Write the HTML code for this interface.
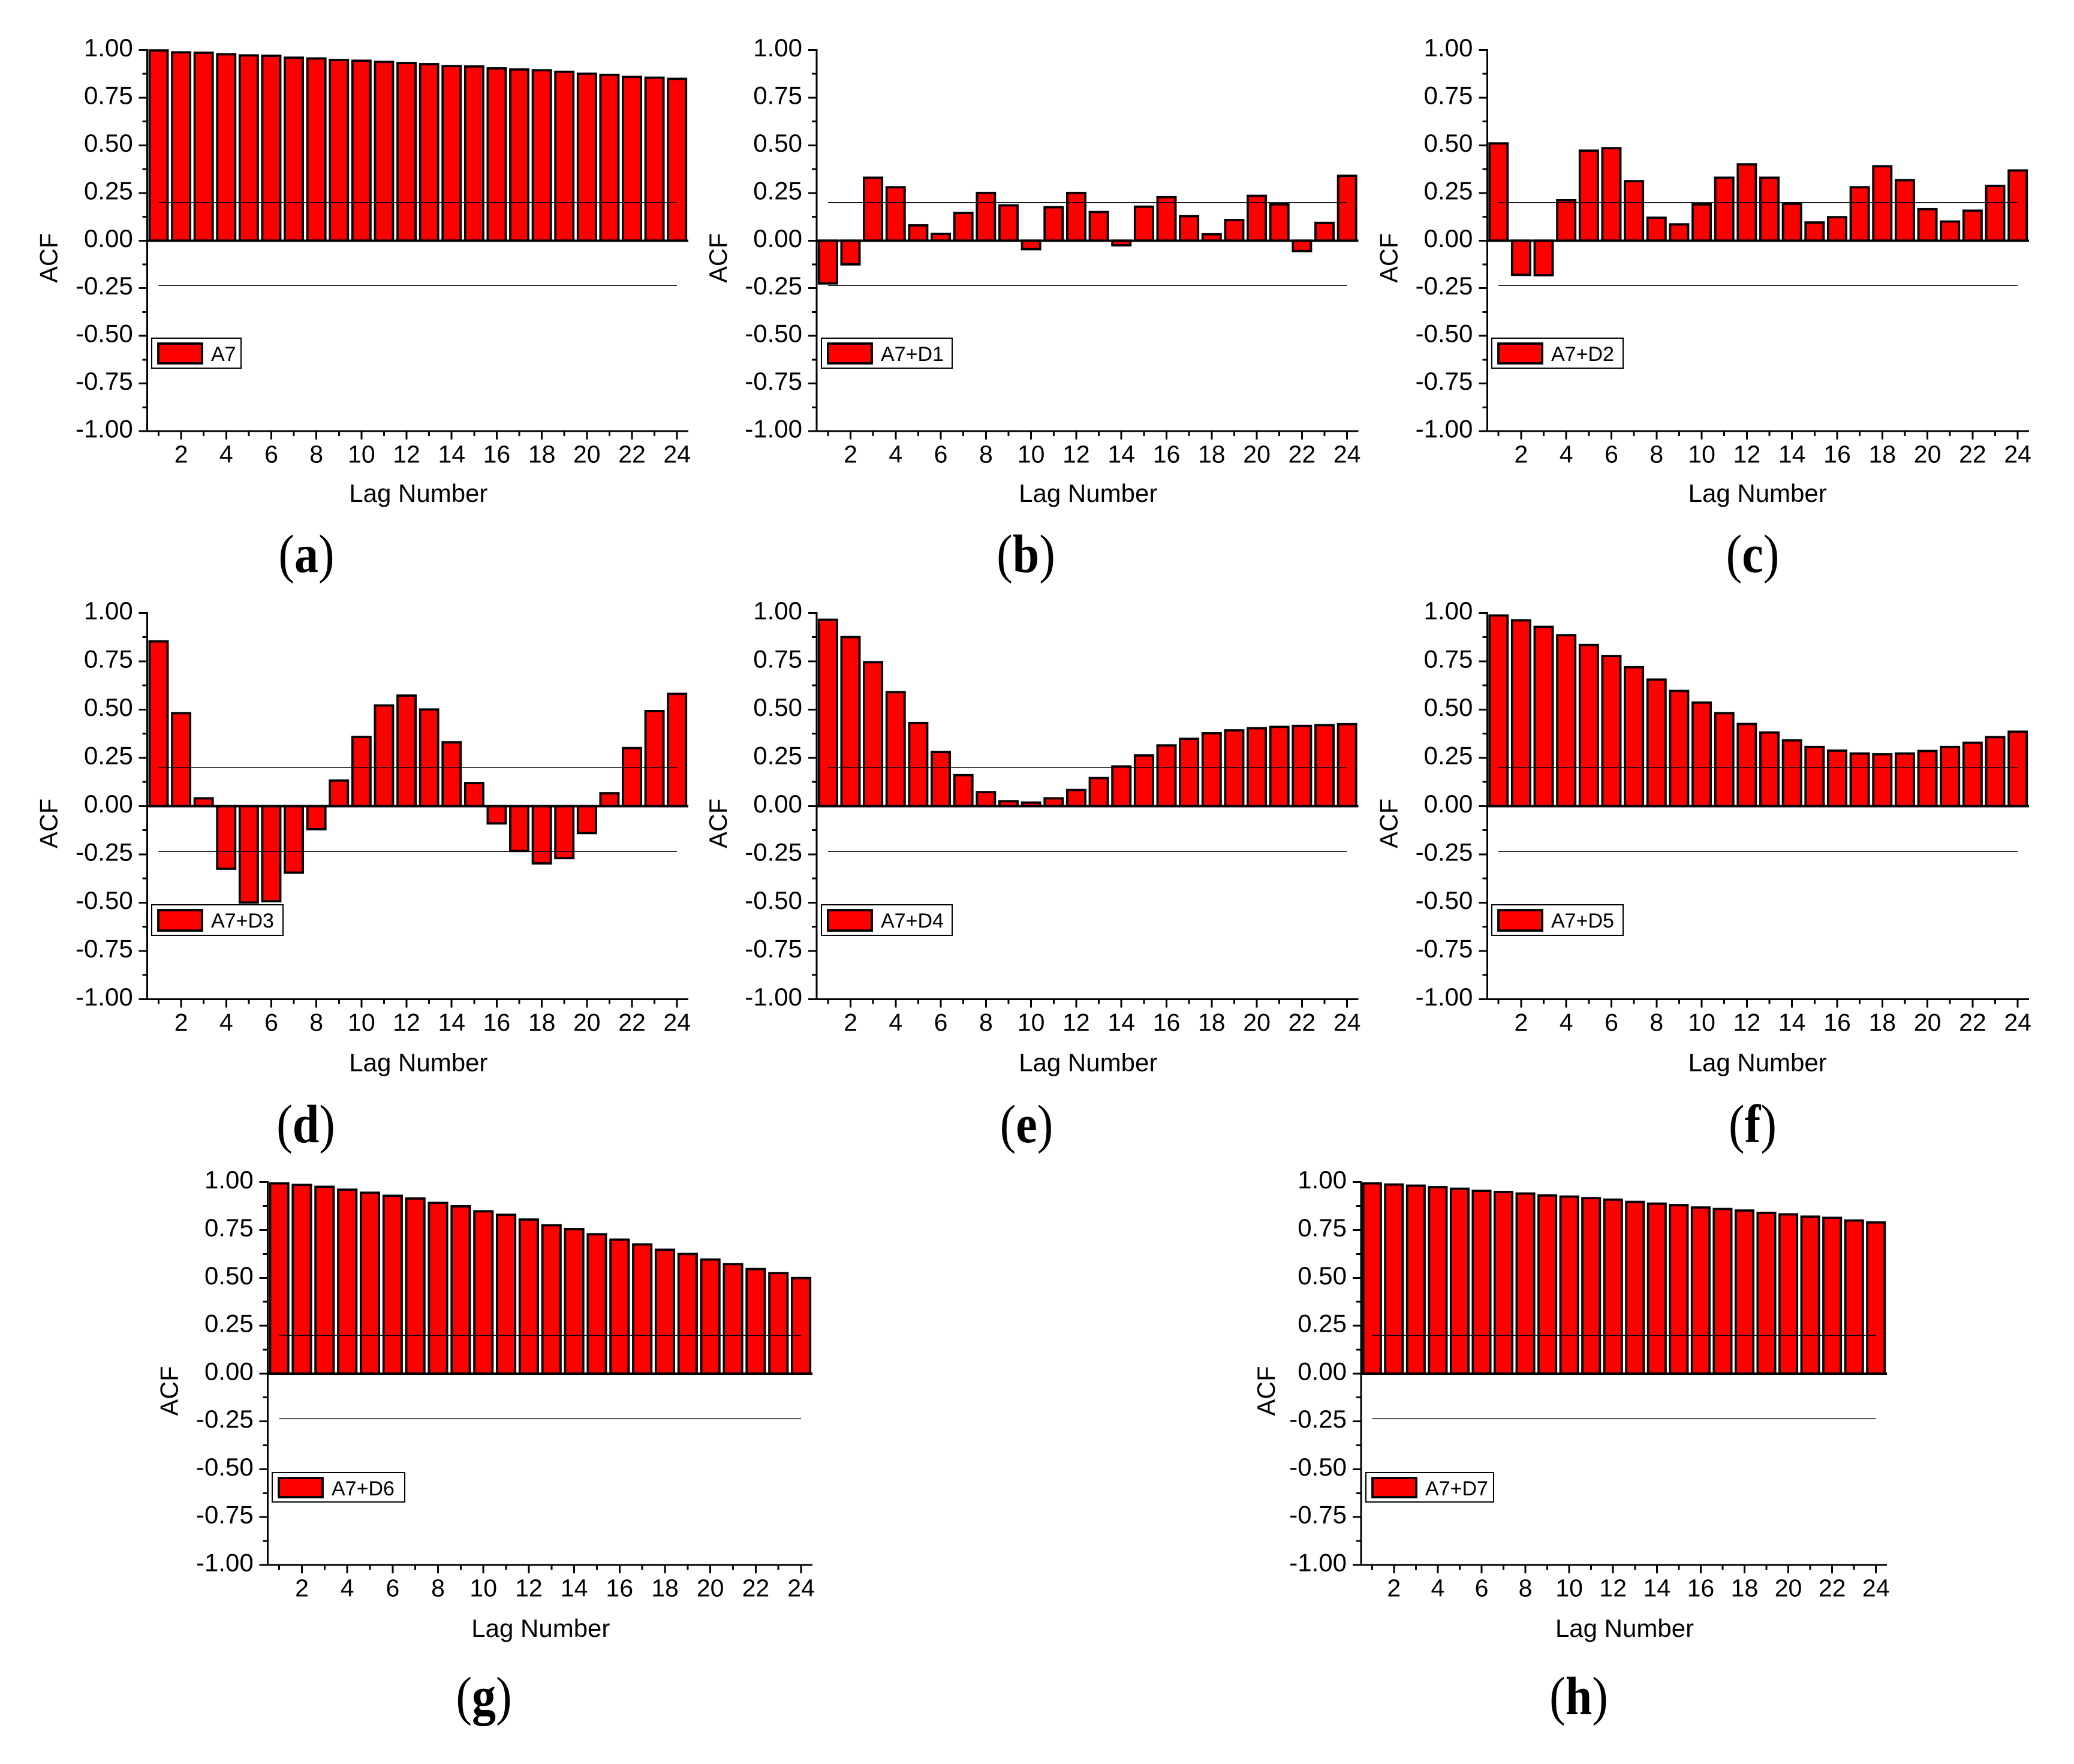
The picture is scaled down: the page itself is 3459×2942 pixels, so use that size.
<!DOCTYPE html>
<html lang="en">
<head>
<meta charset="utf-8">
<title>ACF charts of A7 and detail reconstructions</title>
<style>
html,body{margin:0;padding:0;background:#fff;}
svg{display:block;}
text{fill:#000;font-family:"Liberation Sans",Arial,sans-serif;}
.caption{font-family:"Liberation Serif","Times New Roman",serif;}
</style>
</head>
<body>
<svg id="figure" xmlns="http://www.w3.org/2000/svg" width="3459" height="2942" viewBox="0 0 3459 2942">
<rect x="0" y="0" width="3459" height="2942" fill="#ffffff"></rect>
</svg>
<script>
const lagNumbers = [1,2,3,4,5,6,7,8,9,10,11,12,13,14,15,16,17,18,19,20,21,22,23,24];
const xTickLabels = ['2','4','6','8','10','12','14','16','18','20','22','24'];
const yTickValues = [1,0.75,0.5,0.25,0,-0.25,-0.5,-0.75,-1];
const yTickLabels = ['1.00','0.75','0.50','0.25','0.00','-0.25','-0.50','-0.75','-1.00'];
const yMinorTickValues = [0.875,0.625,0.375,0.125,-0.125,-0.375,-0.625,-0.875];
const upperBound = 0.2;
const lowerBound = -0.236;

const seriesA7 = [0.998,0.988,0.986,0.978,0.972,0.970,0.960,0.956,0.948,0.944,0.938,0.932,0.926,0.916,0.914,0.904,0.898,0.894,0.886,0.876,0.870,0.859,0.855,0.849];
const seriesA7D1 = [-0.225,-0.125,0.33,0.28,0.08,0.035,0.145,0.25,0.185,-0.045,0.175,0.25,0.15,-0.025,0.178,0.228,0.128,0.033,0.108,0.235,0.19,-0.055,0.093,0.34];
const seriesA7D2 = [0.51,-0.18,-0.182,0.212,0.472,0.485,0.312,0.12,0.085,0.19,0.33,0.40,0.33,0.193,0.095,0.123,0.28,0.39,0.317,0.165,0.1,0.157,0.287,0.368];
const seriesA7D3 = [0.853,0.481,0.04,-0.325,-0.5,-0.493,-0.345,-0.12,0.132,0.358,0.521,0.572,0.5,0.33,0.119,-0.09,-0.233,-0.297,-0.27,-0.14,0.066,0.3,0.492,0.581];
const seriesA7D4 = [0.965,0.875,0.745,0.59,0.43,0.28,0.16,0.072,0.025,0.018,0.04,0.083,0.145,0.205,0.262,0.314,0.348,0.377,0.392,0.403,0.41,0.415,0.419,0.424];
const seriesA7D5 = [0.987,0.962,0.928,0.885,0.834,0.777,0.719,0.655,0.596,0.536,0.481,0.425,0.381,0.34,0.306,0.287,0.272,0.268,0.272,0.285,0.306,0.328,0.357,0.385];
const seriesA7D6 = [0.994,0.986,0.976,0.961,0.945,0.929,0.915,0.892,0.874,0.848,0.83,0.805,0.775,0.755,0.728,0.70,0.675,0.647,0.625,0.596,0.572,0.546,0.525,0.499];
const seriesA7D7 = [0.994,0.988,0.982,0.974,0.966,0.955,0.949,0.941,0.931,0.925,0.917,0.909,0.897,0.888,0.88,0.868,0.86,0.852,0.84,0.832,0.82,0.814,0.8,0.79];

const panels = [
  {id:'a',name:'A7',values:seriesA7,left:245.7,right:1148,top:83.5,bottom:719,legend:{x:253,y:564,w:149,h:50},capX:511,capY:954,labelDx:-150,titleDx:0,titleDy:118},
  {id:'b',name:'A7+D1',values:seriesA7D1,left:1362,right:2265.5,top:83.5,bottom:719,legend:{x:1370,y:564,w:218,h:50},capX:1711,capY:954,labelDx:-150,titleDx:0,titleDy:118},
  {id:'c',name:'A7+D2',values:seriesA7D2,left:2480.4,right:3384,top:83.5,bottom:719,legend:{x:2488,y:564,w:219,h:50},capX:2923,capY:954,labelDx:-150,titleDx:-2,titleDy:118},
  {id:'d',name:'A7+D3',values:seriesA7D3,left:245.7,right:1148,top:1022.3,bottom:1666.3,legend:{x:253,y:1509,w:219,h:51},capX:510,capY:1905,labelDx:-150,titleDx:0,titleDy:120},
  {id:'e',name:'A7+D4',values:seriesA7D4,left:1362,right:2265.5,top:1022.3,bottom:1666.3,legend:{x:1370,y:1509,w:218,h:51},capX:1712,capY:1905,labelDx:-150,titleDx:0,titleDy:120},
  {id:'f',name:'A7+D5',values:seriesA7D5,left:2480.4,right:3384,top:1022.3,bottom:1666.3,legend:{x:2488,y:1509,w:219,h:51},capX:2923,capY:1905,labelDx:-150,titleDx:-2,titleDy:120},
  {id:'g',name:'A7+D6',values:seriesA7D6,left:446.7,right:1355,top:1971.7,bottom:2610,legend:{x:454,y:2456,w:221,h:49},capX:807,capY:2859,labelDx:-150,titleDx:0,titleDy:120},
  {id:'h',name:'A7+D7',values:seriesA7D7,left:2270,right:3147,top:1971.7,bottom:2610,legend:{x:2278,y:2456,w:213,h:49},capX:2633,capY:2859,labelDx:-144,titleDx:0,titleDy:120}
];

const SVG_NS = 'http://www.w3.org/2000/svg';
const figure = document.getElementById('figure');

function add(parent, tag, attrs, text) {
  const el = document.createElementNS(SVG_NS, tag);
  for (const k in attrs) el.setAttribute(k, attrs[k]);
  if (text !== undefined) el.textContent = text;
  parent.appendChild(el);
  return el;
}
function xScale(p, lag) {
  return p.left + (lag - 0.5) * (p.right - p.left) / 24;
}
function yScale(p, v) {
  return p.top + (1 - v) * (p.bottom - p.top) / 2;
}
function seg(parent, x1, y1, x2, y2, w) {
  return add(parent, 'line', {x1:x1, y1:y1, x2:x2, y2:y2, stroke:'#000', 'stroke-width':w, 'shape-rendering':'crispEdges'});
}

panels.forEach(function (p) {
  const g = add(figure, 'g', {});
  
  

  const step = (p.right - p.left) / 24;
  const barW = step * 0.8;
  const zeroY = yScale(p, 0);

  // bars
  p.values.forEach(function (v, i) {
    const lag = lagNumbers[i];
    const yv = yScale(p, v);
    const bar = add(g, 'rect', {
      x: xScale(p, lag) - barW / 2,
      y: Math.min(yv, zeroY),
      width: barW,
      height: Math.abs(yv - zeroY),
      fill: '#ff0000',
      stroke: '#000',
      'stroke-width': 3.8
    });
    
    
  });

  // confidence bounds
  const up = seg(g, xScale(p, 1), yScale(p, upperBound), xScale(p, 24), yScale(p, upperBound), 1.5);
  
  
  const low = seg(g, xScale(p, 1), yScale(p, lowerBound), xScale(p, 24), yScale(p, lowerBound), 1.5);
  
  

  // y axis
  const yAxis = seg(g, p.left, p.top - 1.5, p.left, p.bottom + 1.5, 3);
  
  
  yTickValues.forEach(function (v, i) {
    const t = seg(g, p.left - 14, yScale(p, v), p.left, yScale(p, v), 3);
    
    
    const label = add(g, 'text', {x: p.left - 24, y: yScale(p, v) + 10.5, 'text-anchor': 'end', 'font-size': 42}, yTickLabels[i]);
    
    
  });
  yMinorTickValues.forEach(function (v) {
    const t = seg(g, p.left - 8, yScale(p, v), p.left, yScale(p, v), 3);
    
    
  });

  // zero line and x axis
  const zero = seg(g, p.left, zeroY, p.right, zeroY, 4);
  
  
  const xAxis = seg(g, p.left, p.bottom, p.right, p.bottom, 3);
  
  
  lagNumbers.forEach(function (lag) {
    const major = lag % 2 === 0;
    const t = seg(g, xScale(p, lag), p.bottom, xScale(p, lag), p.bottom + (major ? 14 : 8), 3);
    
    
  });
  xTickLabels.forEach(function (txt) {
    const label = add(g, 'text', {x: xScale(p, Number(txt)), y: p.bottom + 52.5, 'text-anchor': 'middle', 'font-size': 41}, txt);
    
    
  });

  // axis titles
  const xTitle = add(g, 'text', {x: (p.left + p.right) / 2 + 1 + p.titleDx, y: p.bottom + p.titleDy, 'text-anchor': 'middle', 'font-size': 42}, 'Lag Number');
  
  
  const yx = p.left + p.labelDx;
  const yy = zeroY + 29;
  const yTitle = add(g, 'text', {x: yx, y: yy, 'text-anchor': 'middle', 'font-size': 41.5, transform: 'rotate(-90 ' + yx + ' ' + yy + ')'}, 'ACF');
  
  

  // legend
  const lg = add(g, 'g', {});
  
  
  const L = p.legend;
  add(lg, 'rect', {x: L.x, y: L.y, width: L.w, height: L.h, fill: '#fff', stroke: '#000', 'stroke-width': 2});
  const swatch = add(lg, 'rect', {x: L.x + 11, y: L.y + 9, width: 73, height: L.h - 17, fill: '#ff0000', stroke: '#000', 'stroke-width': 3.8});
  
  
  const lt = add(lg, 'text', {x: L.x + 99, y: L.y + 38, 'font-size': 34}, p.name);
  
  

  // caption
  const cap = add(figure, 'text', {'class': 'caption', transform: 'translate(' + p.capX + ' ' + p.capY + ') scale(1 1.12)', 'text-anchor': 'middle', 'font-size': 80});
  add(cap, 'tspan', {}, '(');
  add(cap, 'tspan', {'font-weight': 'bold'}, p.id);
  add(cap, 'tspan', {}, ')');
  
  
});
</script>
</body>
</html>
